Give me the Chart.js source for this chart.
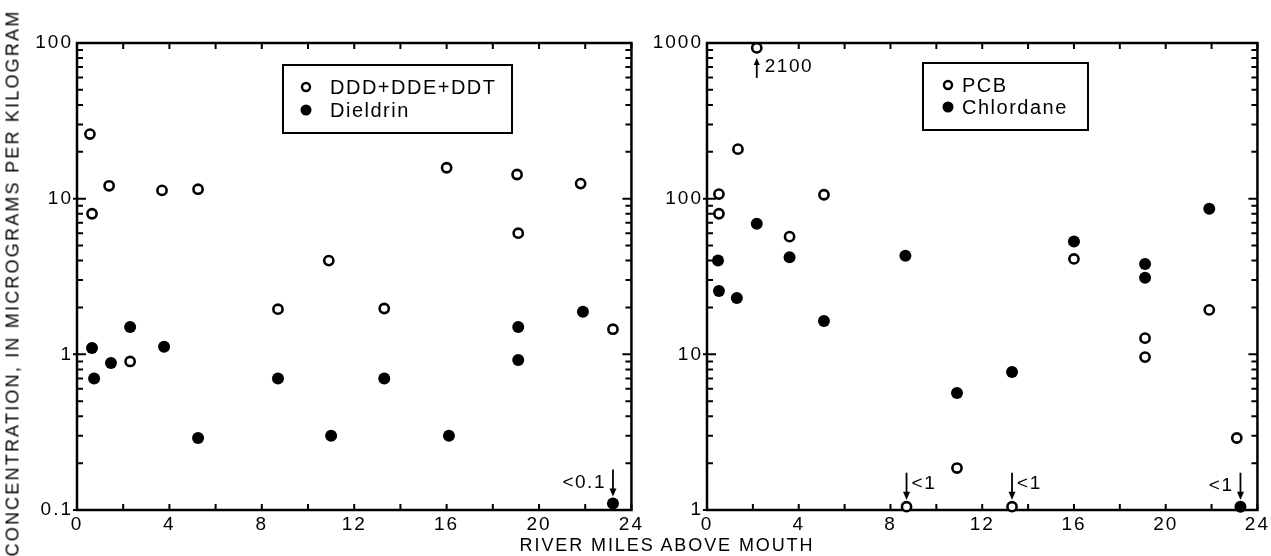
<!DOCTYPE html>
<html>
<head>
<meta charset="utf-8">
<script src="https://cdn.jsdelivr.net/npm/chart.js@4.4.1/dist/chart.umd.min.js"></script>
<style>
  body { margin: 0; background: #fff; width: 1271px; height: 556px; position: relative; overflow: hidden;
         font-family: "Liberation Sans", Arial, sans-serif; color: #000; }
  canvas { position: absolute; top: 0; }
  #leftChart { left: 0; }
  #rightChart { left: 645px; }
  #ytitle { position: absolute; left: 13px; top: 283px; transform: translate(-50%, -50%) rotate(-90deg);
            white-space: nowrap; font-size: 18px; letter-spacing: 2.2px; }
  #xtitle { position: absolute; left: 667px; top: 535px; transform: translateX(-50%);
            white-space: nowrap; font-size: 18px; letter-spacing: 1.9px; }
</style>
</head>
<body>
<canvas id="leftChart" width="645" height="556"></canvas>
<canvas id="rightChart" width="626" height="556"></canvas>
<div id="ytitle">CONCENTRATION, IN MICROGRAMS PER KILOGRAM</div>
<div id="xtitle">RIVER MILES ABOVE MOUTH</div>
<script>
// axis ticks
const xTickValues = [0, 4, 8, 12, 16, 20, 24];
const xMinorValues = [2, 6, 10, 14, 18, 22];
const leftYTicks = [0.1, 1, 10, 100];
const rightYTicks = [1, 10, 100, 1000];

// left panel: DDD+DDE+DDT (open) and Dieldrin (filled)
const ddtMiles = [0.56, 0.65, 1.39, 3.68, 5.24, 16.0, 19.05, 21.8, 19.1, 10.9, 8.7, 2.3, 13.3, 23.2];
const ddtValues = [26, 8.0, 12.1, 11.3, 11.5, 15.8, 14.3, 12.5, 6.0, 4.0, 1.95, 0.9, 1.97, 1.45];
const dieldrinMiles = [0.65, 0.74, 1.47, 2.3, 3.77, 5.24, 8.7, 11.0, 13.3, 16.1, 19.1, 19.1, 21.9, 23.2];
const dieldrinValues = [1.1, 0.7, 0.88, 1.5, 1.12, 0.29, 0.7, 0.3, 0.7, 0.3, 1.5, 0.92, 1.88, 0.11];

// right panel: PCB (open) and Chlordane (filled)
const pcbMiles = [2.17, 1.35, 0.52, 0.52, 3.6, 5.1, 16.0, 21.9, 19.1, 19.1, 23.1, 10.9, 13.3, 8.7];
const pcbValues = [930, 208, 107, 80, 57, 106, 41, 19.3, 12.7, 9.6, 2.9, 1.86, 1.05, 1.05];
const chlordaneMiles = [0.48, 0.52, 1.3, 2.17, 3.6, 5.1, 8.65, 10.9, 13.3, 16.0, 19.1, 19.1, 21.9, 23.26];
const chlordaneValues = [40, 25.5, 23, 69, 42, 16.4, 43, 5.65, 7.7, 53, 38, 31, 86, 1.05];

const FONT = '"Liberation Sans", Arial, sans-serif';

function toPoints(xs, ys) {
    return xs.map((x, i) => ({ x: x, y: ys[i] }));
}

function openSeries(label, xs, ys) {
    return { label, data: toPoints(xs, ys), pointStyle: 'circle', pointRadius: 4.6, pointBorderWidth: 2.6,
             backgroundColor: '#fff', borderColor: '#000', showLine: false, clip: false };
}
function filledSeries(label, xs, ys) {
    return { label, data: toPoints(xs, ys), pointStyle: 'circle', pointRadius: 6, pointBorderWidth: 0,
             backgroundColor: '#000', borderColor: '#000', showLine: false, clip: false };
}

// frame with inward tick marks on all four sides
const frameTicks = {
    id: 'frameTicks',
    beforeDraw(chart) {
        chart.ctx.letterSpacing = '2px';
    },
    beforeDatasetsDraw(chart) {
        const { ctx, chartArea: a, scales: { x, y } } = chart;
        ctx.save();
        ctx.strokeStyle = '#000';
        ctx.lineWidth = 2.5;
        ctx.strokeRect(a.left, a.top, a.right - a.left, a.bottom - a.top);
        ctx.lineWidth = 2;
        ctx.beginPath();
        [...xTickValues, ...xMinorValues].forEach(v => {
            const px = x.getPixelForValue(v);
            ctx.moveTo(px, a.bottom); ctx.lineTo(px, a.bottom - 6);
            ctx.moveTo(px, a.top); ctx.lineTo(px, a.top + 6);
        });
        for (let d = y.min; d < y.max * 0.999; d *= 10) {
            for (let k = 1; k <= 9; k++) {
                const py = y.getPixelForValue(d * k);
                const len = k === 1 ? 9 : 6;
                ctx.moveTo(a.left - (k === 1 ? 4 : 0), py); ctx.lineTo(a.left + len, py);
                ctx.moveTo(a.right, py); ctx.lineTo(a.right - len, py);
            }
        }
        ctx.stroke();
        ctx.restore();
    }
};

// boxed legend inside the plot
const boxLegend = {
    id: 'boxLegend',
    afterDraw(chart, args, opts) {
        const { ctx, chartArea: a } = chart;
        const bx = a.left + opts.left, by = a.top + opts.top;
        ctx.save();
        ctx.strokeStyle = '#000';
        ctx.lineWidth = 2;
        ctx.strokeRect(bx, by, opts.width, opts.height);
        ctx.font = '20px ' + FONT;
        ctx.letterSpacing = '1.5px';
        ctx.textBaseline = 'middle';
        chart.data.datasets.forEach((ds, i) => {
            const cy = by + opts.rowY[i];
            ctx.beginPath();
            ctx.arc(bx + opts.markerX, cy, ds.pointBorderWidth ? 4 : 5.5, 0, 2 * Math.PI);
            ctx.fillStyle = ds.backgroundColor;
            ctx.fill();
            if (ds.pointBorderWidth) { ctx.lineWidth = 2.4; ctx.stroke(); }
            ctx.fillStyle = '#000';
            ctx.fillText(ds.label, bx + opts.textX, cy + 1);
        });
        ctx.restore();
    }
};

// arrows with "<x" / "2100" notes next to some points
const notes = {
    id: 'notes',
    afterDatasetsDraw(chart, args, opts) {
        const { ctx } = chart;
        ctx.save();
        ctx.strokeStyle = '#000';
        ctx.fillStyle = '#000';
        ctx.lineWidth = 1.8;
        ctx.font = '19px ' + FONT;
        ctx.letterSpacing = '1.5px';
        ctx.textBaseline = 'middle';
        (opts.items || []).forEach(n => {
            const pt = chart.getDatasetMeta(n.ds).data[n.idx];
            const px = pt.x, py = pt.y;
            ctx.beginPath();
            if (n.dir === 'down') {
                ctx.moveTo(px, py - 34); ctx.lineTo(px, py - 12);
                ctx.stroke();
                ctx.beginPath();
                ctx.moveTo(px - 3.5, py - 15); ctx.lineTo(px + 3.5, py - 15); ctx.lineTo(px, py - 7);
                ctx.closePath(); ctx.fill();
                if (n.side === 'left') { ctx.textAlign = 'right'; ctx.fillText(n.text, px - 7, py - 21); }
                else { ctx.textAlign = 'left'; ctx.fillText(n.text, px + 5, py - 23); }
            } else {
                ctx.moveTo(px, py + 30); ctx.lineTo(px, py + 14);
                ctx.stroke();
                ctx.beginPath();
                ctx.moveTo(px - 3, py + 17); ctx.lineTo(px + 3, py + 17); ctx.lineTo(px, py + 10);
                ctx.closePath(); ctx.fill();
                ctx.textAlign = 'left';
                ctx.fillText(n.text, px + 8, py + 19);
            }
        });
        ctx.restore();
    }
};

function makeChart(id, datasets, yMin, yMax, yTicks, yWidth, padRight, legendOpts, noteItems) {
    const tickFont = { family: FONT, size: 19 };
    return new Chart(document.getElementById(id), {
        type: 'scatter',
        data: { datasets },
        plugins: [frameTicks, boxLegend, notes],
        options: {
            responsive: false,
            animation: false,
            layout: { padding: { left: 0, right: padRight, top: 43, bottom: 0 } },
            scales: {
                x: {
                    type: 'linear', min: 0, max: 24,
                    afterBuildTicks: s => { s.ticks = xTickValues.map(v => ({ value: v })); },
                    afterFit: s => { s.height = 46; },
                    grid: { display: false, drawTicks: false },
                    border: { display: false },
                    ticks: { color: '#000', font: tickFont, padding: 3, maxRotation: 0, autoSkip: false }
                },
                y: {
                    type: 'logarithmic', min: yMin, max: yMax,
                    afterBuildTicks: s => { s.ticks = yTicks.map(v => ({ value: v })); },
                    afterFit: s => { s.width = yWidth; },
                    grid: { display: false, drawTicks: false },
                    border: { display: false },
                    ticks: { color: '#000', font: tickFont, padding: 4, autoSkip: false, callback: v => String(v) }
                }
            },
            plugins: {
                legend: { display: false },
                tooltip: { enabled: false },
                boxLegend: legendOpts,
                notes: { items: noteItems }
            }
        }
    });
}

makeChart('leftChart',
    [openSeries('DDD+DDE+DDT', ddtMiles, ddtValues), filledSeries('Dieldrin', dieldrinMiles, dieldrinValues)],
    0.1, 100, leftYTicks, 77, 13,
    { left: 206, top: 22, width: 229, height: 68, markerX: 23, textX: 47, rowY: [22, 45] },
    [{ ds: 1, idx: 13, text: '<0.1', dir: 'down', side: 'left' }]);

makeChart('rightChart',
    [openSeries('PCB', pcbMiles, pcbValues), filledSeries('Chlordane', chlordaneMiles, chlordaneValues)],
    1, 1000, rightYTicks, 62, 11,
    { left: 216, top: 20, width: 165, height: 67, markerX: 25, textX: 39, rowY: [22, 44] },
    [{ ds: 0, idx: 0, text: '2100', dir: 'up' },
     { ds: 0, idx: 13, text: '<1', dir: 'down', side: 'right' },
     { ds: 0, idx: 12, text: '<1', dir: 'down', side: 'right' },
     { ds: 1, idx: 13, text: '<1', dir: 'down', side: 'left' }]);
</script>
</body>
</html>
